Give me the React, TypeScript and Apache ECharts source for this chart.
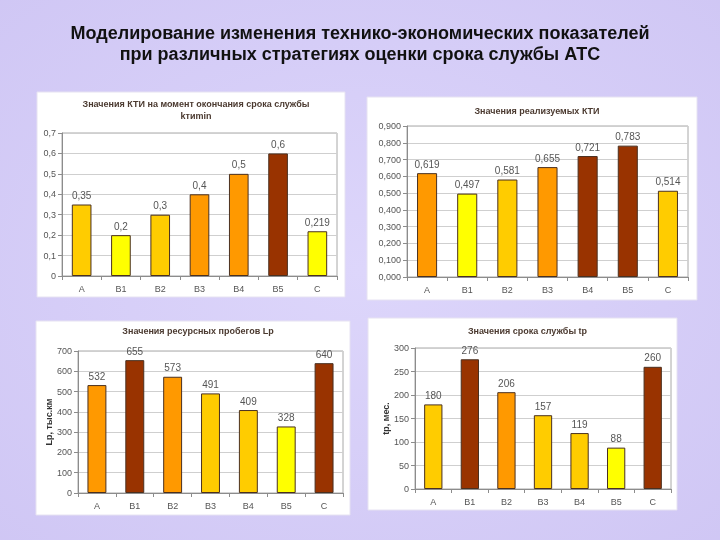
import React, { useEffect, useRef } from "react";
import * as echarts from "echarts";

const categories = ["A", "B1", "B2", "B3", "B4", "B5", "C"];
const ktiMin = [0.35, 0.2, 0.3, 0.4, 0.5, 0.6, 0.219];
const ktiReal = [0.619, 0.497, 0.581, 0.655, 0.721, 0.783, 0.514];
const mileage = [532, 655, 573, 491, 409, 328, 640];
const lifetime = [180, 276, 206, 157, 119, 88, 260];

const Y = "#ffff00";
const G = "#ffcc00";
const O = "#ff9900";
const D = "#993300";
const colorsKtiMin = [G, Y, G, O, O, D, Y];
const colorsKtiReal = [O, Y, G, O, D, D, G];
const colorsMileage = [O, D, O, G, G, Y, D];
const colorsLifetime = [G, D, O, G, G, Y, D];

const mainTitle1 = "Моделирование изменения технико-экономических показателей";
const mainTitle2 = "при различных стратегиях оценки срока службы АТС";
const panelTitles = [
  "Значения КТИ на момент окончания срока службы\nkтиmin",
  "Значения реализуемых КТИ",
  "Значения ресурсных пробегов Lp",
  "Значения срока службы tp",
];
const yNames = ["", "", "Lp, тыс.км", "tp, мес."];

const FONT = "'Liberation Sans', Arial, sans-serif";

export default function App() {
  const ref = useRef<HTMLDivElement>(null);
  useEffect(() => {
    if (!ref.current) return;
    const chart = echarts.init(ref.current, null, { renderer: "svg" });

    const grids = [
      { left: 62, top: 133, width: 275, height: 143 },
      { left: 407, top: 126, width: 281, height: 151 },
      { left: 78, top: 351, width: 265, height: 142 },
      { left: 415, top: 348, width: 256, height: 141 },
    ];
    const boxes = [
      { x: 37, y: 92, width: 308, height: 205 },
      { x: 367, y: 97, width: 330, height: 203 },
      { x: 36, y: 321, width: 314, height: 194 },
      { x: 368, y: 318, width: 309, height: 192 },
    ];
    const titleTops = [93, 100, 320, 320];
    const yMax = [0.7, 0.9, 700, 300];
    const yInt = [0.1, 0.1, 100, 50];
    const nameGaps = [0, 0, 25, 24];
    const fmtAxis = [
      (v: number) => (v === 0 ? "0" : Number(v.toFixed(1)).toString().replace(".", ",")),
      (v: number) => v.toFixed(3).replace(".", ","),
      (v: number) => String(Math.round(v)),
      (v: number) => String(Math.round(v)),
    ];
    const fmtLabel = [
      (v: number) => String(v).replace(".", ","),
      (v: number) => v.toFixed(3).replace(".", ","),
      (v: number) => String(v),
      (v: number) => String(v),
    ];
    const datasets = [ktiMin, ktiReal, mileage, lifetime];
    const colorSets = [colorsKtiMin, colorsKtiReal, colorsMileage, colorsLifetime];

    const option: any = {
      animation: false,
      backgroundColor: {
        type: "radial",
        x: 0.5,
        y: 0.5,
        r: 0.75,
        colorStops: [
          { offset: 0, color: "#ddd6fb" },
          { offset: 1, color: "#cfc6f4" },
        ],
      },
      textStyle: { fontFamily: FONT },
      title: [
        {
          text: mainTitle1 + "\n" + mainTitle2,
          left: "center",
          top: 17,
          textStyle: {
            fontFamily: FONT,
            fontWeight: "bold",
            fontSize: 18,
            lineHeight: 21,
            color: "#111111",
            align: "center",
          },
        },
        ...panelTitles.map((t, i) => ({
          text: t,
          left: boxes[i].x + boxes[i].width / 2,
          top: titleTops[i],
          textAlign: "center",
          textStyle: {
            fontFamily: FONT,
            fontWeight: "bold",
            fontSize: 9,
            lineHeight: 12,
            color: "#4b3a30",
          },
        })),
      ],
      graphic: boxes.map((b) => ({
        type: "rect",
        z: -10,
        shape: { x: b.x, y: b.y, width: b.width, height: b.height },
        style: { fill: "#ffffff", stroke: "#e6e2f2", lineWidth: 1 },
      })),
      grid: grids.map((g) => ({
        ...g,
        show: true,
        borderColor: "#a8a8a8",
        borderWidth: 1,
        backgroundColor: "transparent",
      })),
      xAxis: grids.map((_, i) => ({
        type: "category",
        gridIndex: i,
        data: categories,
        axisLine: { lineStyle: { color: "#8c8c8c" } },
        axisTick: { show: true, alignWithLabel: false, length: 4, lineStyle: { color: "#8c8c8c" } },
        axisLabel: { color: "#555555", fontSize: 9, margin: 8, fontFamily: FONT },
      })),
      yAxis: grids.map((_, i) => ({
        type: "value",
        gridIndex: i,
        min: 0,
        max: yMax[i],
        interval: yInt[i],
        name: yNames[i],
        nameLocation: "middle",
        nameGap: nameGaps[i],
        nameRotate: 90,
        nameTextStyle: { fontWeight: "bold", fontSize: 9, color: "#333333", fontFamily: FONT },
        axisLine: { show: true, lineStyle: { color: "#8c8c8c" } },
        axisTick: { show: true, length: 4, lineStyle: { color: "#8c8c8c" } },
        axisLabel: { color: "#555555", fontSize: 9, margin: 6, formatter: fmtAxis[i], fontFamily: FONT },
        splitLine: { show: true, lineStyle: { color: "#cfcfcf", width: 1 } },
      })),
      series: datasets.map((d, i) => ({
        type: "bar",
        xAxisIndex: i,
        yAxisIndex: i,
        barWidth: "50%",
        data: d.map((v, j) => ({ value: v, itemStyle: { color: colorSets[i][j] } })),
        itemStyle: { borderColor: "#4a3020", borderWidth: 1 },
        label: {
          show: true,
          position: "top",
          distance: 4,
          color: "#555555",
          fontSize: 10,
          fontFamily: FONT,
          formatter: (p: any) => fmtLabel[i](p.value),
        },
      })),
    };
    chart.setOption(option);
    return () => chart.dispose();
  }, []);
  return (
    <div
      ref={ref}
      style={{ position: "fixed", left: 0, top: 0, width: 720, height: 540 }}
    />
  );
}
